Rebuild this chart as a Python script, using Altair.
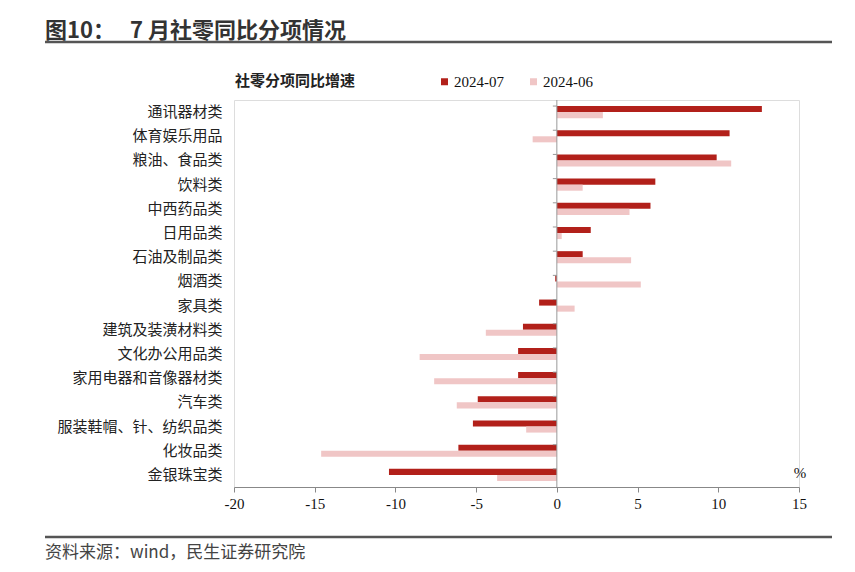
import altair as alt
import pandas as pd

cats = ["通讯器材类", "体育娱乐用品", "粮油、食品类", "饮料类", "中西药品类", "日用品类",
        "石油及制品类", "烟酒类", "家具类", "建筑及装潢材料类", "文化办公用品类",
        "家用电器和音像器材类", "汽车类", "服装鞋帽、针、纺织品类", "化妆品类", "金银珠宝类"]
v07 = [12.7, 10.7, 9.9, 6.1, 5.8, 2.1, 1.6, -0.1, -1.1, -2.1, -2.4, -2.4, -4.9, -5.2, -6.1, -10.4]
v06 = [2.85, -1.5, 10.8, 1.6, 4.5, 0.3, 4.6, 5.2, 1.1, -4.4, -8.5, -7.6, -6.2, -1.9, -14.6, -3.7]
series = ["2024-07", "2024-06"]
colors = ["#B2201A", "#F0C6C6"]
x_ticks = [-20, -15, -10, -5, 0, 5, 10, 15]

title_a = "图10："
title_b = "7 月社零同比分项情况"
legend_title = "社零分项同比增速"
source_txt = "资料来源：wind，民生证券研究院"

rows = []
for c, a, b in zip(cats, v07, v06):
    rows.append({"cat": c, "series": series[0], "val": a})
    rows.append({"cat": c, "series": series[1], "val": b})
df = pd.DataFrame(rows)

W, H = 565, 387
CJK = "Noto Sans CJK SC"
SERIF = "Liberation Serif"

ysc = alt.Scale(domain=cats, paddingInner=0.5, paddingOuter=0.25)

bars = alt.Chart(df).mark_bar().encode(
    y=alt.Y("cat:N", sort=cats, scale=ysc,
            axis=alt.Axis(title=None, domain=False, ticks=False, labelFont=CJK,
                          labelFontSize=15, labelColor="#222", labelPadding=12,
                          labelLimit=300)),
    yOffset=alt.YOffset("series:N", sort=series, scale=alt.Scale(domain=series, paddingInner=0, paddingOuter=0)),
    x=alt.X("val:Q", stack=None,
            scale=alt.Scale(domain=[-20, 15], nice=False, zero=False),
            axis=alt.Axis(title=None, values=x_ticks, grid=False, domainColor="#888",
                          tickColor="#888", tickSize=5, labelFont=SERIF, labelFontSize=15,
                          labelColor="#111", labelPadding=4, labelFlush=False,
                          labelExpr="toString(datum.value)")),
    color=alt.Color("series:N", sort=series,
                    scale=alt.Scale(domain=series, range=colors),
                    legend=alt.Legend(title=None, orient="none", legendX=203, legendY=-26,
                                      direction="horizontal", symbolType="square",
                                      symbolSize=49, symbolStrokeWidth=0,
                                      labelFont=SERIF, labelFontSize=15, labelColor="#111",
                                      labelOffset=2, columnPadding=22, padding=0)),
)

cat_df = pd.DataFrame({"cat": cats})
zero_line = alt.Chart(cat_df.head(1)).mark_rule(color="#999", strokeWidth=1).encode(
    x=alt.datum(0), y=alt.value(0), y2=alt.value(H)
)
zero_ticks = alt.Chart(cat_df).mark_rule(color="#999", strokeWidth=1, xOffset=-4, x2Offset=0).encode(
    x=alt.datum(0), x2=alt.datum(0), y=alt.Y("cat:N", sort=cats, bandPosition=0)
)

ta = alt.Chart(pd.DataFrame({"t": [title_a]})).mark_text(
    font=CJK, fontSize=22, fontWeight="bold", color="#333",
    align="left", baseline="alphabetic").encode(
    text="t:N", x=alt.value(-189), y=alt.value(-62))
tb = alt.Chart(pd.DataFrame({"t": [title_b]})).mark_text(
    font=CJK, fontSize=22, fontWeight="bold", color="#333",
    align="left", baseline="alphabetic").encode(
    text="t:N", x=alt.value(-104), y=alt.value(-62))
one = pd.DataFrame({"t": [1]})
top_line = alt.Chart(one).mark_rule(color="#555", strokeWidth=2.5).encode(
    x=alt.value(-189), x2=alt.value(598), y=alt.value(-58))
bot_line = alt.Chart(one).mark_rule(color="#555", strokeWidth=2.5).encode(
    x=alt.value(-189), x2=alt.value(598), y=alt.value(437))
src = alt.Chart(pd.DataFrame({"t": [source_txt]})).mark_text(
    font=CJK, fontSize=17, color="#444", align="left", baseline="middle").encode(
    text="t:N", x=alt.value(-189), y=alt.value(453))
leg_t = alt.Chart(pd.DataFrame({"t": [legend_title]})).mark_text(
    font=CJK, fontSize=15, fontWeight="bold", color="#222", align="left", baseline="middle").encode(
    text="t:N", x=alt.value(1), y=alt.value(-19))
pct = alt.Chart(pd.DataFrame({"t": ["%"]})).mark_text(
    font=SERIF, fontSize=15, color="#111", align="center", baseline="middle").encode(
    text="t:N", x=alt.value(566), y=alt.value(373))

chart = alt.layer(bars, zero_line, zero_ticks, ta, tb, top_line, bot_line, src, leg_t, pct).properties(
    width=W, height=H,
    autosize=alt.AutoSizeParams(type="none"),
    padding={"left": 226, "top": 92, "right": 48, "bottom": 77},
).configure_view(stroke=None).configure(background="white")

chart.save("out.html", embed_options={"renderer": "svg", "actions": False})
